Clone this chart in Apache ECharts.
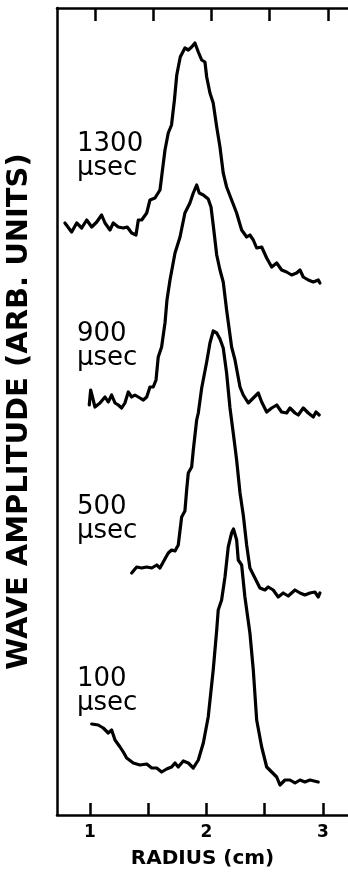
<!DOCTYPE html>
<html><head><meta charset="utf-8">
<script src="https://cdn.jsdelivr.net/npm/echarts@6/dist/echarts.min.js"></script>
<style>html,body{margin:0;padding:0;background:#fff}#c{width:348px;height:873px}</style>
</head><body><div id="c"></div>
<script>
// Radius (cm) / amplitude (arb. units, traces offset vertically)
const trace1300 = [[0.785,59.2],[0.843,58.3],[0.886,59.2],[0.929,58.7],[0.972,59.5],[1.015,58.8],[1.058,59.3],[1.100,60.0],[1.129,59.2],[1.172,58.5],[1.200,59.2],[1.243,58.8],[1.286,58.7],[1.320,58.8],[1.358,58.2],[1.395,58.0],[1.415,59.5],[1.444,59.5],[1.487,60.2],[1.515,61.5],[1.558,61.7],[1.601,62.5],[1.615,63.8],[1.644,66.5],[1.672,68.2],[1.700,69.0],[1.725,71.5],[1.745,74.0],[1.775,75.8],[1.815,76.7],[1.844,76.5],[1.873,76.8],[1.901,77.2],[1.930,76.3],[1.959,75.5],[1.987,75.3],[2.002,73.8],[2.030,72.2],[2.058,71.2],[2.088,68.8],[2.116,66.8],[2.144,64.2],[2.173,62.8],[2.216,61.5],[2.259,60.2],[2.302,58.5],[2.345,57.8],[2.373,58.0],[2.402,57.5],[2.431,56.7],[2.474,56.8],[2.517,55.7],[2.560,54.8],[2.603,55.2],[2.645,54.5],[2.688,54.3],[2.731,54.0],[2.774,54.2],[2.803,54.5],[2.831,53.8],[2.874,53.5],[2.917,53.3],[2.960,53.5],[2.974,53.2]];
const trace900 = [[0.994,41.0],[1.006,42.5],[1.043,40.8],[1.086,41.2],[1.129,41.8],[1.157,41.3],[1.186,42.0],[1.215,41.2],[1.243,41.0],[1.272,40.7],[1.300,41.2],[1.329,42.3],[1.358,41.8],[1.386,42.0],[1.429,41.7],[1.458,41.5],[1.487,41.8],[1.515,42.8],[1.543,42.8],[1.567,43.5],[1.586,45.8],[1.615,46.8],[1.644,49.2],[1.661,51.5],[1.687,53.5],[1.730,56.2],[1.773,57.8],[1.815,60.2],[1.858,61.2],[1.887,62.2],[1.916,63.0],[1.938,62.2],[1.973,62.0],[2.015,61.6],[2.039,60.8],[2.058,59.0],[2.088,56.0],[2.116,54.5],[2.144,53.3],[2.173,50.5],[2.216,46.8],[2.245,45.5],[2.288,42.8],[2.316,42.0],[2.359,41.2],[2.402,41.7],[2.445,42.2],[2.474,41.3],[2.517,40.3],[2.560,40.7],[2.603,41.0],[2.645,40.3],[2.688,40.2],[2.717,40.7],[2.760,40.2],[2.788,40.0],[2.831,40.7],[2.874,40.2],[2.917,39.8],[2.940,40.3],[2.968,40.0]];
const trace500 = [[1.358,24.2],[1.401,24.8],[1.444,24.7],[1.487,24.8],[1.530,24.7],[1.573,25.0],[1.601,24.7],[1.629,25.3],[1.672,26.2],[1.701,26.5],[1.730,26.4],[1.758,27.0],[1.787,29.8],[1.815,30.4],[1.830,32.5],[1.844,34.2],[1.873,34.8],[1.887,36.5],[1.916,39.5],[1.930,40.2],[1.959,42.7],[2.002,45.3],[2.030,47.2],[2.058,48.4],[2.088,48.2],[2.116,47.6],[2.144,46.7],[2.173,44.2],[2.202,40.7],[2.230,38.2],[2.259,35.5],[2.288,32.2],[2.316,30.0],[2.345,27.0],[2.373,24.7],[2.416,23.7],[2.459,22.7],[2.502,22.5],[2.530,22.8],[2.573,22.5],[2.616,21.8],[2.659,22.2],[2.702,21.9],[2.760,22.5],[2.803,22.2],[2.845,22.0],[2.888,22.2],[2.931,22.3],[2.960,21.8],[2.974,22.2]];
const trace100 = [[1.015,9.1],[1.071,9.0],[1.114,8.7],[1.157,8.2],[1.186,8.5],[1.215,7.5],[1.258,6.8],[1.286,6.3],[1.315,5.7],[1.372,5.2],[1.429,5.0],[1.487,5.1],[1.530,4.7],[1.573,4.7],[1.615,4.3],[1.658,4.6],[1.701,4.8],[1.730,5.2],[1.758,4.8],[1.801,5.4],[1.844,5.2],[1.887,4.7],[1.930,5.5],[1.973,7.2],[2.015,9.8],[2.058,14.5],[2.088,18.5],[2.101,20.5],[2.130,21.5],[2.159,23.8],[2.187,26.8],[2.216,28.2],[2.232,28.6],[2.259,27.5],[2.273,25.5],[2.302,25.0],[2.330,21.8],[2.373,18.2],[2.402,14.5],[2.431,9.5],[2.474,6.8],[2.517,4.8],[2.560,4.3],[2.603,3.8],[2.631,3.0],[2.674,3.5],[2.717,3.5],[2.760,3.2],[2.803,3.5],[2.845,3.3],[2.888,3.5],[2.960,3.3]];
const traceNames = ['1300', '900', '500', '100'];
const tickValues = [1, 1.5, 2, 2.5, 3];
const labelValues = [1, 2, 3];

const chart = echarts.init(document.getElementById('c'), null, {renderer: 'canvas'});
const FONT = '"DejaVu Sans", sans-serif';
const lineStyle = {color: '#000', width: 3.2, join: 'round', cap: 'round'};
const mkSeries = (name, d) => ({name, type: 'line', data: d, showSymbol: false, symbol: 'none', lineStyle, silent: true, animation: false});

function label(txt, x, y) {
  return {type: 'text', left: x, top: y, style: {text: txt, font: '26px ' + FONT, fill: '#000', lineHeight: 24}};
}

chart.setOption({
  animation: false,
  backgroundColor: '#fff',
  grid: {left: 57, right: 0, top: 8, bottom: 58, containLabel: false, outerBoundsMode: 'none'},
  xAxis: [{
    type: 'value', min: 0.717, max: 3.215, position: 'bottom',
    axisLine: {show: true, onZero: false, lineStyle: {color: '#000', width: 2.5}},
    axisTick: {show: true, inside: true, length: 12, customValues: tickValues, lineStyle: {color: '#000', width: 2.5}},
    axisLabel: {show: true, customValues: labelValues, margin: 9, color: '#000', fontSize: 17, fontWeight: 'bold', fontFamily: FONT},
    splitLine: {show: false},
    name: 'RADIUS (cm)', nameLocation: 'middle', nameGap: 34,
    nameTextStyle: {color: '#000', fontSize: 20, fontWeight: 'bold', fontFamily: FONT}
  }, {
    type: 'value', min: 0.674, max: 3.172, position: 'top',
    axisLine: {show: true, onZero: false, lineStyle: {color: '#000', width: 2.5}},
    axisTick: {show: true, inside: true, length: 13, customValues: tickValues, lineStyle: {color: '#000', width: 2.5}},
    axisLabel: {show: false}, splitLine: {show: false}
  }],
  yAxis: {
    type: 'value', min: 0, max: 80.7,
    axisLine: {show: true, onZero: false, lineStyle: {color: '#000', width: 2.5}},
    axisTick: {show: false}, axisLabel: {show: false}, splitLine: {show: false},
    name: 'WAVE AMPLITUDE (ARB. UNITS)', nameLocation: 'middle', nameGap: 23, nameRotate: 90,
    nameTextStyle: {color: '#000', fontSize: 29, fontWeight: 'bold', fontFamily: FONT}
  },
  series: [mkSeries(traceNames[0], trace1300), mkSeries(traceNames[1], trace900), mkSeries(traceNames[2], trace500), mkSeries(traceNames[3], trace100)],
  graphic: [
    label(traceNames[0] + '\nμsec', 77, 131),
    label(traceNames[1] + '\nμsec', 77, 321),
    label(traceNames[2] + '\nμsec', 77, 494),
    label(traceNames[3] + '\nμsec', 77, 666)
  ]
});
</script></body></html>
